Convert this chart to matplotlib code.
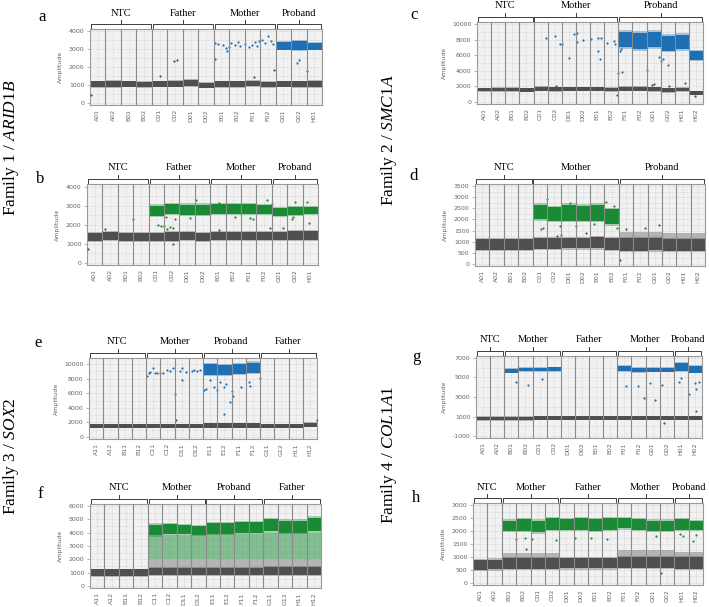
import matplotlib

matplotlib.use("Agg")

import matplotlib.pyplot as plt
import numpy as np

plt.rcParams["mathtext.fontset"] = "custom"
plt.rcParams["mathtext.rm"] = "Liberation Serif"
plt.rcParams["mathtext.it"] = "Liberation Serif:italic"

W, H = 709, 607
BLUE = "#1f6fb5"
GREEN = "#1a8a34"
GRAY = "#4f4f4f"
LIGHT_GRAY = "#8e8e8e"

# ---- well names and groups --------------------------------------------------
WELLS_AB = ["A01", "A02", "B01", "B02", "C01", "C02", "D01", "D02",
            "E01", "E02", "F01", "F02", "G01", "G02", "H01"]
WELLS_16 = ["A01", "A02", "B01", "B02", "C01", "C02", "D01", "D02",
            "E01", "E02", "F01", "F02", "G01", "G02", "H01", "H02"]
WELLS_EF = ["A11", "A12", "B11", "B12", "C11", "C12", "D11", "D12",
            "E11", "E12", "F11", "F12", "G11", "G12", "H11", "H12"]

GROUPS_AB = [("NTC", 4), ("Father", 4), ("Mother", 4), ("Proband", 3)]
GROUPS_CD = [("NTC", 4), ("Mother", 6), ("Proband", 6)]
GROUPS_EF = [("NTC", 4), ("Mother", 4), ("Proband", 4), ("Father", 4)]
GROUPS_GH = [("NTC", 2), ("Mother", 4), ("Father", 4), ("Mother", 4), ("Proband", 2)]

# ---- droplet bands per well (low, high amplitude) ---------------------------
# panel a : Family 1 / ARID1B, FAM
NEG_A = [(870, 1180), (880, 1200), (880, 1180), (860, 1150), (880, 1180),
         (890, 1200), (920, 1250), (820, 1100), (870, 1180), (870, 1180),
         (900, 1200), (860, 1150), (880, 1180), (870, 1180), (880, 1200)]
POS_A = [None] * 12 + [(2950, 3350), (2950, 3400), (2950, 3300)]
DOTS_A_X = [7.6, 7.8, 8.1, 8.3, 8.35, 8.5, 8.6, 8.9, 9.1, 9.2, 9.5, 9.8, 10.0,
            10.2, 10.3, 10.4, 10.6, 10.8, 11.0, 11.2, 11.3, 12.9, 13.0]
DOTS_A_Y = [3300, 3250, 3200, 3050, 2850, 3100, 3300, 3200, 3350, 3150, 3250,
            3100, 3200, 3350, 3150, 3450, 3500, 3300, 3700, 3400, 3250, 2200, 2350]
GDOTS_A_X = [-0.45, 4.0, 4.9, 5.1, 7.6, 10.1, 11.4, 13.5]
GDOTS_A_Y = [450, 1500, 2300, 2350, 2400, 1400, 1800, 1750]

# panel b : Family 1 / ARID1B, HEX
NEG_B = [(1150, 1550), (1180, 1600), (1150, 1560), (1150, 1560), (1130, 1580),
         (1150, 1600), (1170, 1600), (1150, 1580), (1180, 1620), (1180, 1620),
         (1180, 1620), (1170, 1600), (1180, 1620), (1200, 1660), (1200, 1660)]
POS_B = [None] * 4 + [(2450, 3000), (2550, 3100), (2500, 3050), (2500, 3050),
                      (2550, 3100), (2550, 3100), (2550, 3100), (2550, 3050),
                      (2450, 2900), (2500, 2950), (2550, 2950)]
DOTS_B_X = [4.1, 4.3, 4.5, 4.6, 4.9, 5.1, 5.2, 6.2, 6.6, 8.1, 9.1, 10.1, 10.3,
            11.2, 11.5, 12.8, 12.9, 13.0, 13.8, 13.9]
DOTS_B_Y = [2000, 1950, 1950, 2400, 1900, 1800, 2300, 2350, 3300, 3150, 2400,
            2350, 2300, 3300, 3100, 2300, 2400, 3200, 3200, 2100]
GDOTS_B_X = [-0.45, 0.7, 2.5, 4.7, 5.1, 8.1, 11.4, 12.2]
GDOTS_B_Y = [700, 1750, 2300, 1750, 1000, 1700, 1800, 1800]

# panel c : Family 2 / SMC1A, FAM
NEG_C = [(1350, 1800), (1400, 1850), (1380, 1820), (1300, 1750), (1450, 1950),
         (1400, 1900), (1450, 1900), (1450, 1900), (1450, 1900), (1350, 1850),
         (1450, 1950), (1450, 1950), (1400, 1900), (1250, 1750), (1350, 1850),
         (900, 1350)]
POS_C = [None] * 10 + [(7000, 9000), (6800, 8800), (7000, 9000), (6600, 8500),
                       (6800, 8600), (5400, 6500)]
DOTS_C_X = [4.4, 5.0, 5.4, 5.5, 6.0, 6.4, 6.6, 6.6, 7.0, 7.6, 8.1, 8.1, 8.2,
            8.3, 8.7, 9.2, 9.3, 9.6, 9.7, 9.5, 9.8, 11.5, 12.4, 12.5, 12.7, 13.0]
DOTS_C_Y = [8200, 8400, 7400, 7400, 5700, 8700, 7700, 8800, 8000, 8100, 8200,
            6600, 5500, 8200, 7500, 7800, 7400, 6500, 6800, 3700, 3800, 4100,
            5800, 5200, 5500, 4800]
GDOTS_C_X = [5.1, 9.4, 11.9, 12.0, 13.1, 14.2, 14.9]
GDOTS_C_Y = [2100, 900, 2200, 2300, 2000, 2400, 800]

# panel d : Family 2 / SMC1A, HEX
NEG_D = [(650, 1100), (650, 1100), (650, 1100), (650, 1100), (680, 1150),
         (680, 1150), (700, 1150), (700, 1150), (700, 1200), (650, 1150),
         (600, 1150), (600, 1150), (620, 1150), (600, 1100), (600, 1100),
         (600, 1100)]
HAZE_D = [None] * 10 + [(1150, 1450), (1150, 1450), (1150, 1450), (1100, 1400),
                        (1100, 1400), (1100, 1400)]
POS_D = [None] * 4 + [(2000, 2650), (1950, 2550), (1950, 2650), (1950, 2600),
                      (1950, 2650), (1800, 2450)]
DOTS_D_X = [4.1, 4.2, 4.5, 5.4, 6.1, 6.5, 7.8, 8.6, 9.2, 9.4]
DOTS_D_Y = [1550, 1600, 2900, 1700, 2750, 1700, 1800, 2800, 2600, 1600]
GDOTS_D_X = [5.2, 5.5, 7.2, 9.6, 10.0, 11.3, 12.3]
GDOTS_D_Y = [1250, 1300, 1400, 200, 1550, 1600, 1750]

# panel e : Family 3 / SOX2, FAM
NEG_E = [(1250, 1750)] * 8 + [(1300, 1850)] * 4 + [(1250, 1750)] * 3 + [(1400, 1950)]
POS_E = [None] * 8 + [(8500, 10000), (8500, 9900), (8600, 10000), (8800, 10200)]
DOTS_E_X = [3.6, 3.7, 3.8, 4.0, 4.1, 4.3, 4.5, 4.7, 5.0, 5.2, 5.4, 5.5, 5.9,
            6.0, 6.0, 6.3, 6.7, 6.9, 7.1, 7.3, 7.6, 7.7, 8.0, 8.3, 8.5, 8.7,
            9.0, 9.1, 9.5, 9.6, 9.4, 9.0, 10.2, 10.7, 10.8, 11.5]
DOTS_E_Y = [8300, 8800, 8900, 9400, 8800, 8800, 8700, 8800, 9200, 9100, 9400,
            5900, 9000, 9400, 7800, 8900, 9100, 9200, 9100, 9200, 6400, 6600,
            7800, 6800, 6500, 7500, 6900, 7300, 6300, 5600, 4800, 3200, 6800,
            7500, 7000, 8100]
GDOTS_E_X = [5.6, 15.5]
GDOTS_E_Y = [2300, 2300]

# panel f : Family 3 / SOX2, HEX
NEG_F = [(750, 1250)] * 4 + [(800, 1350)] * 8 + [(850, 1400)] * 4
RAIN_F = [None] * 4 + [(1350, 2000)] * 12
POS_F = [None] * 4 + [(3800, 4600), (3900, 4650), (3900, 4600), (3800, 4500),
                      (3900, 4700), (3900, 4700), (4000, 4800), (4000, 4800),
                      (4100, 5000), (4000, 4900), (4000, 4900), (4100, 5100)]
POS_RAIN_F = [None] * 4 + [(2000, 3800)] * 4 + [(2000, 3900)] * 4 + [(2000, 4000)] * 4

# panel g : Family 4 / COL1A1, FAM
NEG_G = [(600, 1000)] * 4 + [(650, 1050)] * 12
POS_G = [None, None, (5500, 5900), (5650, 6000), (5650, 6000), (5650, 6050),
         None, None, None, None, (5650, 6200), (5550, 6000), (5600, 6000),
         (5600, 6000), (5700, 6500), (5500, 6200)]
DOTS_G_X = [2.3, 3.2, 4.2, 10.1, 11.0, 11.8, 12.7, 13.9, 14.0, 14.6, 15.0,
            15.1, 15.3, 15.1]
DOTS_G_Y = [4500, 4200, 4800, 4100, 4100, 4400, 4200, 4500, 4900, 3300, 4400,
            3800, 4500, 1600]
GDOTS_G_X = [11.4, 12.2, 12.8]
GDOTS_G_Y = [2900, 2700, 300]

# panel h : Family 4 / COL1A1, HEX
NEG_H = [(500, 880), (520, 900)] + [(550, 950)] * 4 + [(560, 950)] * 4 + \
        [(580, 1000)] * 4 + [(550, 1000)] * 2
RAIN_H = [None, None] + [(950, 1150)] * 4 + [None] * 4 + [(1000, 1250)] * 4 + \
         [(1000, 1200)] * 2
POS_H = [None, None, (2000, 2400), (2000, 2450), (1950, 2400), (2050, 2500),
         (2050, 2450), (2050, 2500), (2000, 2450), (2050, 2500), (2100, 2500),
         (2050, 2450), (2000, 2400), (2000, 2400), (2050, 2450), (2050, 2400)]
DOTS_H_X = [2.5, 3.1, 3.6, 5.3, 6.6, 7.7, 8.8, 12.2, 13.9, 14.1, 14.8, 15.0]
DOTS_H_Y = [1700, 1750, 1700, 1650, 1750, 1750, 1700, 1800, 1900, 1800, 1600, 1850]
GDOTS_H_X = [3.2, 12.6]
GDOTS_H_Y = [1300, 400]


def bands(ax, spans, color, alpha=1.0, soft=True):
    for i, span in enumerate(spans):
        if span is None:
            continue
        lo, hi = span
        if soft:
            # faint halo so the droplet cloud edge does not look cut
            pad = 0.12 * (hi - lo)
            ax.bar(i, hi - lo + 2 * pad, bottom=lo - pad, width=1.0, color=color,
                   alpha=0.35 * alpha, linewidth=0, zorder=2)
        ax.bar(i, hi - lo, bottom=lo, width=1.0, color=color, alpha=alpha,
               linewidth=0, zorder=2)


def panel(fig, box, ylim, yticks, wells, groups, neg, pos, color,
          dots=None, gdots=None, neg_light=None, pos_light=None):
    l, t, r, b = box
    ax = fig.add_axes([l / W, 1 - b / H, (r - l) / W, (b - t) / H])
    ax.set_facecolor("#f1f1f1")
    n = len(wells)
    x = np.arange(n)
    ax.set_xlim(-0.5, n - 0.5)
    ax.set_ylim(*ylim)

    if neg_light is not None:
        bands(ax, neg_light, "#9a9a9a", alpha=0.7, soft=False)
    bands(ax, neg, GRAY)
    if pos_light is not None:
        bands(ax, pos_light, color, alpha=0.5, soft=False)
    bands(ax, pos, color)
    if dots is not None:
        ax.scatter(dots[0], dots[1], s=2.5, color=color, linewidths=0, zorder=3)
    if gdots is not None:
        ax.scatter(gdots[0], gdots[1], s=2.5, color=GRAY, linewidths=0, zorder=3)

    for k in range(1, n):
        ax.axvline(k - 0.5, color="#8a8a8a", lw=0.8, zorder=4)

    ax.set_xticks(x, labels=wells, rotation=90, fontsize=4.5, color="#666666")
    ax.set_yticks(yticks)
    ax.set_yticklabels([str(v) for v in yticks], fontsize=4.5, color="#666666")
    ax.set_yticks([(yticks[i] + yticks[i + 1]) / 2 for i in range(len(yticks) - 1)],
                  minor=True)
    ax.tick_params(axis="x", length=0, pad=3)
    ax.tick_params(axis="y", length=2, width=0.5, color="#999999", pad=2)
    ax.tick_params(axis="y", which="minor", length=0)
    ax.grid(which="both", ls=":", lw=0.5, color="#c4c4c4", zorder=1)
    ax.set_axisbelow(True)
    ax.set_ylabel("Amplitude", fontsize=4.5, color="#666666", labelpad=4)
    for sp in ax.spines.values():
        sp.set_color("#9a9a9a")
        sp.set_linewidth(0.8)

    # sample brackets above the plot
    hpx = b - t
    tr = ax.get_xaxis_transform()
    start = 0
    for name, cnt in groups:
        x0, x1 = start - 0.5 + 0.06, start + cnt - 0.5 - 0.06
        xm = (x0 + x1) / 2
        yb = 1 + 5 / hpx
        ax.plot([x0, x0, x1, x1], [1, yb, yb, 1], transform=tr, clip_on=False,
                color="#3c3c3c", lw=0.7)
        ax.plot([xm, xm], [yb, 1 + 9 / hpx], transform=tr, clip_on=False,
                color="#3c3c3c", lw=0.7)
        ax.text(xm, 1 + 16 / hpx, name, transform=tr, ha="center", va="center",
                fontsize=7.5, family="Liberation Serif")
        start += cnt
    return ax


def main() -> None:
    fig = plt.figure(figsize=(W / 100, H / 100), dpi=100)
    fig.patch.set_facecolor("white")

    panel(fig, (90, 29, 322, 105), (-130, 4090), [0, 1000, 2000, 3000, 4000],
          WELLS_AB, GROUPS_AB, NEG_A, POS_A, BLUE,
          (DOTS_A_X, DOTS_A_Y), (GDOTS_A_X, GDOTS_A_Y))
    panel(fig, (87, 184, 318, 265), (-120, 4140), [0, 1000, 2000, 3000, 4000],
          WELLS_AB, GROUPS_AB, NEG_B, POS_B, GREEN,
          (DOTS_B_X, DOTS_B_Y), (GDOTS_B_X, GDOTS_B_Y))
    panel(fig, (477, 22, 703, 104), (-256, 10256), [0, 2000, 4000, 6000, 8000, 10000],
          WELLS_16, GROUPS_CD, NEG_C, POS_C, BLUE,
          (DOTS_C_X, DOTS_C_Y), (GDOTS_C_X, GDOTS_C_Y))
    panel(fig, (475, 184, 705, 266), (-90, 3590),
          [0, 500, 1000, 1500, 2000, 2500, 3000, 3500],
          WELLS_16, GROUPS_CD, NEG_D, POS_D, GREEN,
          (DOTS_D_X, DOTS_D_Y), (GDOTS_D_X, GDOTS_D_Y), neg_light=HAZE_D)
    panel(fig, (89, 358, 317, 439), (-274, 10822), [0, 2000, 4000, 6000, 8000, 10000],
          WELLS_EF, GROUPS_EF, NEG_E, POS_E, BLUE,
          (DOTS_E_X, DOTS_E_Y), (GDOTS_E_X, GDOTS_E_Y))
    panel(fig, (90, 504, 321, 588), (-150, 6150),
          [0, 1000, 2000, 3000, 4000, 5000, 6000],
          WELLS_EF, GROUPS_EF, NEG_F, POS_F, GREEN,
          neg_light=RAIN_F, pos_light=POS_RAIN_F)
    panel(fig, (476, 356, 702, 438), (-1205, 7205), [-1000, 1000, 3000, 5000, 7000],
          WELLS_16, GROUPS_GH, NEG_G, POS_G, BLUE,
          (DOTS_G_X, DOTS_G_Y), (GDOTS_G_X, GDOTS_G_Y))
    panel(fig, (473, 503, 703, 585), (-77, 3077),
          [0, 500, 1000, 1500, 2000, 2500, 3000],
          WELLS_16, GROUPS_GH, NEG_H, POS_H, GREEN,
          (DOTS_H_X, DOTS_H_Y), (GDOTS_H_X, GDOTS_H_Y), neg_light=RAIN_H)

    serif = "Liberation Serif"
    for letter, (px, py) in zip("abcdefgh", [(42, 17), (40, 179), (414, 15), (414, 176),
                                              (38, 343), (40, 494), (416, 357), (416, 498)]):
        fig.text(px / W, 1 - py / H, letter, fontsize=12, family=serif,
                 ha="center", va="center")

    families = [("Family 1 / ", "ARID1B", 11, 148), ("Family 2 / ", "SMC1A", 389, 140),
                ("Family 3 / ", "SOX2", 11, 456), ("Family 4 / ", "COL1A1", 389, 455)]
    for plain, gene, px, py in families:
        fig.text(px / W, 1 - py / H, plain + r"$\mathit{" + gene + "}$", rotation=90,
                 fontsize=12.5, family=serif, ha="center", va="center")

    fig.savefig("out.png", dpi=100)
    plt.close(fig)


if __name__ == "__main__":
    main()
